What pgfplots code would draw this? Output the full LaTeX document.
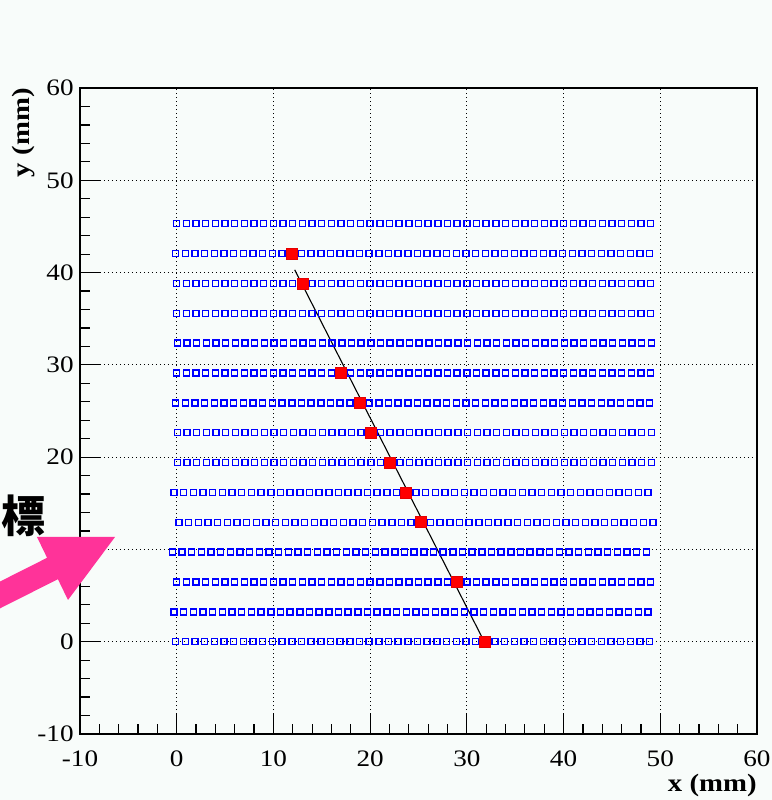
\documentclass[border=0pt]{standalone}
\usepackage{pgfplots}
\pgfplotsset{compat=1.18}
\usepackage{fontspec}
\setmainfont{Liberation Serif}[FakeStretch=1.15]
\newfontfamily\cjk{Noto Sans CJK JP}
\definecolor{bg}{RGB}{248,252,250}
\definecolor{arrowpink}{RGB}{255,51,153}
\pgfplotsset{tube/.style={only marks, mark=square, mark size=1.5pt, color=blue, mark options={line width=0.7pt, solid}}}
\begin{document}
\begin{tikzpicture}
\path[fill=bg, use as bounding box] (-40pt,-33pt) rectangle (346pt,367pt);
\begin{axis}[
  at={(0pt,0pt)}, anchor=south west,
  scale only axis, width=338.5pt, height=323pt,
  xmin=-10, xmax=60, ymin=-10, ymax=60,
  xtick={-10,0,10,20,30,40,50,60}, ytick={-10,0,10,20,30,40,50,60},
  xticklabels={-10,0,10,20,30,40,50,60},
  yticklabels={-10,0,10,20,30,40,50,60},
  minor tick num=4,
  tick align=inside, xtick pos=left, ytick pos=left,
  major tick length=10pt, minor tick length=5pt,
  tick style={black, line width=0.6pt},
  grid=major, major grid style={black, line width=0.55pt, dash pattern=on 0.6pt off 1.4pt},
  axis line style={black, line width=0.9pt},
  ticklabel style={font=\fontsize{11.8}{13}\selectfont},
  xticklabel style={anchor=north, inner sep=0pt, yshift=-8pt},
  yticklabel style={anchor=east, inner sep=0pt, xshift=-3pt},
  xlabel={x (mm)},
  xlabel style={font=\bfseries\fontsize{12.5}{14}\selectfont, at={(axis description cs:1,-0.079)}, anchor=east, inner sep=0pt},
  ylabel={y (mm)},
  ylabel style={font=\bfseries\fontsize{12.5}{14}\selectfont, at={(axis description cs:-0.084,1)}, anchor=east, inner sep=0pt},
]
% row y = 0 (offset -0.1)
\addplot[tube] coordinates {(-0.1,0)(0.9,0)(1.9,0)(2.9,0)(3.9,0)(4.9,0)(5.9,0)(6.9,0)(7.9,0)(8.9,0)(9.9,0)(10.9,0)(11.9,0)(12.9,0)(13.9,0)(14.9,0)(15.9,0)(16.9,0)(17.9,0)(18.9,0)(19.9,0)(20.9,0)(21.9,0)(22.9,0)(23.9,0)(24.9,0)(25.9,0)(26.9,0)(27.9,0)(28.9,0)(29.9,0)(30.9,0)(31.9,0)(32.9,0)(33.9,0)(34.9,0)(35.9,0)(36.9,0)(37.9,0)(38.9,0)(39.9,0)(40.9,0)(41.9,0)(42.9,0)(43.9,0)(44.9,0)(45.9,0)(46.9,0)(47.9,0)(48.9,0)};
% row y = 3.235 (offset -0.27)
\addplot[tube] coordinates {(-0.27,3.235)(0.73,3.235)(1.73,3.235)(2.73,3.235)(3.73,3.235)(4.73,3.235)(5.73,3.235)(6.73,3.235)(7.73,3.235)(8.73,3.235)(9.73,3.235)(10.73,3.235)(11.73,3.235)(12.73,3.235)(13.73,3.235)(14.73,3.235)(15.73,3.235)(16.73,3.235)(17.73,3.235)(18.73,3.235)(19.73,3.235)(20.73,3.235)(21.73,3.235)(22.73,3.235)(23.73,3.235)(24.73,3.235)(25.73,3.235)(26.73,3.235)(27.73,3.235)(28.73,3.235)(29.73,3.235)(30.73,3.235)(31.73,3.235)(32.73,3.235)(33.73,3.235)(34.73,3.235)(35.73,3.235)(36.73,3.235)(37.73,3.235)(38.73,3.235)(39.73,3.235)(40.73,3.235)(41.73,3.235)(42.73,3.235)(43.73,3.235)(44.73,3.235)(45.73,3.235)(46.73,3.235)(47.73,3.235)(48.73,3.235)};
% row y = 6.47 (offset 0)
\addplot[tube] coordinates {(0,6.47)(1,6.47)(2,6.47)(3,6.47)(4,6.47)(5,6.47)(6,6.47)(7,6.47)(8,6.47)(9,6.47)(10,6.47)(11,6.47)(12,6.47)(13,6.47)(14,6.47)(15,6.47)(16,6.47)(17,6.47)(18,6.47)(19,6.47)(20,6.47)(21,6.47)(22,6.47)(23,6.47)(24,6.47)(25,6.47)(26,6.47)(27,6.47)(28,6.47)(29,6.47)(30,6.47)(31,6.47)(32,6.47)(33,6.47)(34,6.47)(35,6.47)(36,6.47)(37,6.47)(38,6.47)(39,6.47)(40,6.47)(41,6.47)(42,6.47)(43,6.47)(44,6.47)(45,6.47)(46,6.47)(47,6.47)(48,6.47)(49,6.47)};
% row y = 9.705 (offset -0.45)
\addplot[tube] coordinates {(-0.45,9.705)(0.55,9.705)(1.55,9.705)(2.55,9.705)(3.55,9.705)(4.55,9.705)(5.55,9.705)(6.55,9.705)(7.55,9.705)(8.55,9.705)(9.55,9.705)(10.55,9.705)(11.55,9.705)(12.55,9.705)(13.55,9.705)(14.55,9.705)(15.55,9.705)(16.55,9.705)(17.55,9.705)(18.55,9.705)(19.55,9.705)(20.55,9.705)(21.55,9.705)(22.55,9.705)(23.55,9.705)(24.55,9.705)(25.55,9.705)(26.55,9.705)(27.55,9.705)(28.55,9.705)(29.55,9.705)(30.55,9.705)(31.55,9.705)(32.55,9.705)(33.55,9.705)(34.55,9.705)(35.55,9.705)(36.55,9.705)(37.55,9.705)(38.55,9.705)(39.55,9.705)(40.55,9.705)(41.55,9.705)(42.55,9.705)(43.55,9.705)(44.55,9.705)(45.55,9.705)(46.55,9.705)(47.55,9.705)(48.55,9.705)};
% row y = 12.94 (offset +0.24)
\addplot[tube] coordinates {(0.24,12.94)(1.24,12.94)(2.24,12.94)(3.24,12.94)(4.24,12.94)(5.24,12.94)(6.24,12.94)(7.24,12.94)(8.24,12.94)(9.24,12.94)(10.24,12.94)(11.24,12.94)(12.24,12.94)(13.24,12.94)(14.24,12.94)(15.24,12.94)(16.24,12.94)(17.24,12.94)(18.24,12.94)(19.24,12.94)(20.24,12.94)(21.24,12.94)(22.24,12.94)(23.24,12.94)(24.24,12.94)(25.24,12.94)(26.24,12.94)(27.24,12.94)(28.24,12.94)(29.24,12.94)(30.24,12.94)(31.24,12.94)(32.24,12.94)(33.24,12.94)(34.24,12.94)(35.24,12.94)(36.24,12.94)(37.24,12.94)(38.24,12.94)(39.24,12.94)(40.24,12.94)(41.24,12.94)(42.24,12.94)(43.24,12.94)(44.24,12.94)(45.24,12.94)(46.24,12.94)(47.24,12.94)(48.24,12.94)(49.24,12.94)};
% row y = 16.175 (offset -0.27)
\addplot[tube] coordinates {(-0.27,16.175)(0.73,16.175)(1.73,16.175)(2.73,16.175)(3.73,16.175)(4.73,16.175)(5.73,16.175)(6.73,16.175)(7.73,16.175)(8.73,16.175)(9.73,16.175)(10.73,16.175)(11.73,16.175)(12.73,16.175)(13.73,16.175)(14.73,16.175)(15.73,16.175)(16.73,16.175)(17.73,16.175)(18.73,16.175)(19.73,16.175)(20.73,16.175)(21.73,16.175)(22.73,16.175)(23.73,16.175)(24.73,16.175)(25.73,16.175)(26.73,16.175)(27.73,16.175)(28.73,16.175)(29.73,16.175)(30.73,16.175)(31.73,16.175)(32.73,16.175)(33.73,16.175)(34.73,16.175)(35.73,16.175)(36.73,16.175)(37.73,16.175)(38.73,16.175)(39.73,16.175)(40.73,16.175)(41.73,16.175)(42.73,16.175)(43.73,16.175)(44.73,16.175)(45.73,16.175)(46.73,16.175)(47.73,16.175)(48.73,16.175)};
% row y = 19.41 (offset +0.07)
\addplot[tube] coordinates {(0.07,19.41)(1.07,19.41)(2.07,19.41)(3.07,19.41)(4.07,19.41)(5.07,19.41)(6.07,19.41)(7.07,19.41)(8.07,19.41)(9.07,19.41)(10.07,19.41)(11.07,19.41)(12.07,19.41)(13.07,19.41)(14.07,19.41)(15.07,19.41)(16.07,19.41)(17.07,19.41)(18.07,19.41)(19.07,19.41)(20.07,19.41)(21.07,19.41)(22.07,19.41)(23.07,19.41)(24.07,19.41)(25.07,19.41)(26.07,19.41)(27.07,19.41)(28.07,19.41)(29.07,19.41)(30.07,19.41)(31.07,19.41)(32.07,19.41)(33.07,19.41)(34.07,19.41)(35.07,19.41)(36.07,19.41)(37.07,19.41)(38.07,19.41)(39.07,19.41)(40.07,19.41)(41.07,19.41)(42.07,19.41)(43.07,19.41)(44.07,19.41)(45.07,19.41)(46.07,19.41)(47.07,19.41)(48.07,19.41)(49.07,19.41)};
% row y = 22.645 (offset +0.07)
\addplot[tube] coordinates {(0.07,22.645)(1.07,22.645)(2.07,22.645)(3.07,22.645)(4.07,22.645)(5.07,22.645)(6.07,22.645)(7.07,22.645)(8.07,22.645)(9.07,22.645)(10.07,22.645)(11.07,22.645)(12.07,22.645)(13.07,22.645)(14.07,22.645)(15.07,22.645)(16.07,22.645)(17.07,22.645)(18.07,22.645)(19.07,22.645)(20.07,22.645)(21.07,22.645)(22.07,22.645)(23.07,22.645)(24.07,22.645)(25.07,22.645)(26.07,22.645)(27.07,22.645)(28.07,22.645)(29.07,22.645)(30.07,22.645)(31.07,22.645)(32.07,22.645)(33.07,22.645)(34.07,22.645)(35.07,22.645)(36.07,22.645)(37.07,22.645)(38.07,22.645)(39.07,22.645)(40.07,22.645)(41.07,22.645)(42.07,22.645)(43.07,22.645)(44.07,22.645)(45.07,22.645)(46.07,22.645)(47.07,22.645)(48.07,22.645)(49.07,22.645)};
% row y = 25.88 (offset -0.1)
\addplot[tube] coordinates {(-0.1,25.88)(0.9,25.88)(1.9,25.88)(2.9,25.88)(3.9,25.88)(4.9,25.88)(5.9,25.88)(6.9,25.88)(7.9,25.88)(8.9,25.88)(9.9,25.88)(10.9,25.88)(11.9,25.88)(12.9,25.88)(13.9,25.88)(14.9,25.88)(15.9,25.88)(16.9,25.88)(17.9,25.88)(18.9,25.88)(19.9,25.88)(20.9,25.88)(21.9,25.88)(22.9,25.88)(23.9,25.88)(24.9,25.88)(25.9,25.88)(26.9,25.88)(27.9,25.88)(28.9,25.88)(29.9,25.88)(30.9,25.88)(31.9,25.88)(32.9,25.88)(33.9,25.88)(34.9,25.88)(35.9,25.88)(36.9,25.88)(37.9,25.88)(38.9,25.88)(39.9,25.88)(40.9,25.88)(41.9,25.88)(42.9,25.88)(43.9,25.88)(44.9,25.88)(45.9,25.88)(46.9,25.88)(47.9,25.88)(48.9,25.88)};
% row y = 29.115 (offset 0)
\addplot[tube] coordinates {(0,29.115)(1,29.115)(2,29.115)(3,29.115)(4,29.115)(5,29.115)(6,29.115)(7,29.115)(8,29.115)(9,29.115)(10,29.115)(11,29.115)(12,29.115)(13,29.115)(14,29.115)(15,29.115)(16,29.115)(17,29.115)(18,29.115)(19,29.115)(20,29.115)(21,29.115)(22,29.115)(23,29.115)(24,29.115)(25,29.115)(26,29.115)(27,29.115)(28,29.115)(29,29.115)(30,29.115)(31,29.115)(32,29.115)(33,29.115)(34,29.115)(35,29.115)(36,29.115)(37,29.115)(38,29.115)(39,29.115)(40,29.115)(41,29.115)(42,29.115)(43,29.115)(44,29.115)(45,29.115)(46,29.115)(47,29.115)(48,29.115)(49,29.115)};
% row y = 32.35 (offset +0.07)
\addplot[tube] coordinates {(0.07,32.35)(1.07,32.35)(2.07,32.35)(3.07,32.35)(4.07,32.35)(5.07,32.35)(6.07,32.35)(7.07,32.35)(8.07,32.35)(9.07,32.35)(10.07,32.35)(11.07,32.35)(12.07,32.35)(13.07,32.35)(14.07,32.35)(15.07,32.35)(16.07,32.35)(17.07,32.35)(18.07,32.35)(19.07,32.35)(20.07,32.35)(21.07,32.35)(22.07,32.35)(23.07,32.35)(24.07,32.35)(25.07,32.35)(26.07,32.35)(27.07,32.35)(28.07,32.35)(29.07,32.35)(30.07,32.35)(31.07,32.35)(32.07,32.35)(33.07,32.35)(34.07,32.35)(35.07,32.35)(36.07,32.35)(37.07,32.35)(38.07,32.35)(39.07,32.35)(40.07,32.35)(41.07,32.35)(42.07,32.35)(43.07,32.35)(44.07,32.35)(45.07,32.35)(46.07,32.35)(47.07,32.35)(48.07,32.35)(49.07,32.35)};
% row y = 35.585 (offset 0)
\addplot[tube] coordinates {(0,35.585)(1,35.585)(2,35.585)(3,35.585)(4,35.585)(5,35.585)(6,35.585)(7,35.585)(8,35.585)(9,35.585)(10,35.585)(11,35.585)(12,35.585)(13,35.585)(14,35.585)(15,35.585)(16,35.585)(17,35.585)(18,35.585)(19,35.585)(20,35.585)(21,35.585)(22,35.585)(23,35.585)(24,35.585)(25,35.585)(26,35.585)(27,35.585)(28,35.585)(29,35.585)(30,35.585)(31,35.585)(32,35.585)(33,35.585)(34,35.585)(35,35.585)(36,35.585)(37,35.585)(38,35.585)(39,35.585)(40,35.585)(41,35.585)(42,35.585)(43,35.585)(44,35.585)(45,35.585)(46,35.585)(47,35.585)(48,35.585)(49,35.585)};
% row y = 38.82 (offset 0)
\addplot[tube] coordinates {(0,38.82)(1,38.82)(2,38.82)(3,38.82)(4,38.82)(5,38.82)(6,38.82)(7,38.82)(8,38.82)(9,38.82)(10,38.82)(11,38.82)(12,38.82)(13,38.82)(14,38.82)(15,38.82)(16,38.82)(17,38.82)(18,38.82)(19,38.82)(20,38.82)(21,38.82)(22,38.82)(23,38.82)(24,38.82)(25,38.82)(26,38.82)(27,38.82)(28,38.82)(29,38.82)(30,38.82)(31,38.82)(32,38.82)(33,38.82)(34,38.82)(35,38.82)(36,38.82)(37,38.82)(38,38.82)(39,38.82)(40,38.82)(41,38.82)(42,38.82)(43,38.82)(44,38.82)(45,38.82)(46,38.82)(47,38.82)(48,38.82)(49,38.82)};
% row y = 42.055 (offset -0.1)
\addplot[tube] coordinates {(-0.1,42.055)(0.9,42.055)(1.9,42.055)(2.9,42.055)(3.9,42.055)(4.9,42.055)(5.9,42.055)(6.9,42.055)(7.9,42.055)(8.9,42.055)(9.9,42.055)(10.9,42.055)(11.9,42.055)(12.9,42.055)(13.9,42.055)(14.9,42.055)(15.9,42.055)(16.9,42.055)(17.9,42.055)(18.9,42.055)(19.9,42.055)(20.9,42.055)(21.9,42.055)(22.9,42.055)(23.9,42.055)(24.9,42.055)(25.9,42.055)(26.9,42.055)(27.9,42.055)(28.9,42.055)(29.9,42.055)(30.9,42.055)(31.9,42.055)(32.9,42.055)(33.9,42.055)(34.9,42.055)(35.9,42.055)(36.9,42.055)(37.9,42.055)(38.9,42.055)(39.9,42.055)(40.9,42.055)(41.9,42.055)(42.9,42.055)(43.9,42.055)(44.9,42.055)(45.9,42.055)(46.9,42.055)(47.9,42.055)(48.9,42.055)};
% row y = 45.29 (offset 0)
\addplot[tube] coordinates {(0,45.29)(1,45.29)(2,45.29)(3,45.29)(4,45.29)(5,45.29)(6,45.29)(7,45.29)(8,45.29)(9,45.29)(10,45.29)(11,45.29)(12,45.29)(13,45.29)(14,45.29)(15,45.29)(16,45.29)(17,45.29)(18,45.29)(19,45.29)(20,45.29)(21,45.29)(22,45.29)(23,45.29)(24,45.29)(25,45.29)(26,45.29)(27,45.29)(28,45.29)(29,45.29)(30,45.29)(31,45.29)(32,45.29)(33,45.29)(34,45.29)(35,45.29)(36,45.29)(37,45.29)(38,45.29)(39,45.29)(40,45.29)(41,45.29)(42,45.29)(43,45.29)(44,45.29)(45,45.29)(46,45.29)(47,45.29)(48,45.29)(49,45.29)};
% hit tubes
\addplot[only marks, mark=square*, mark size=2.75pt, color=red, mark options={fill=red, draw=red!90!black, line width=0.3pt}] coordinates {(11.9,42.055)(13,38.82)(17,29.115)(18.9,25.88)(20.07,22.645)(22.07,19.41)(23.73,16.175)(25.24,12.94)(29,6.47)(31.9,0)};
% fitted track
\addplot[black, line width=0.55pt] coordinates {(12.2,40.3)(31.9,-0.2)};
\end{axis}
\fill[arrowpink] (-53.95pt,69.2pt) -- (-16.45pt,88.1pt) -- (-21.5pt,98.5pt) -- (17.5pt,98.5pt) -- (-6pt,67pt) -- (-11.05pt,77.4pt) -- (-48.55pt,58.5pt) -- cycle;
\node[font=\cjk\bfseries\fontsize{22}{22}\selectfont, inner sep=0pt] at (-28.25pt,109pt) {標};
\end{tikzpicture}
\end{document}
